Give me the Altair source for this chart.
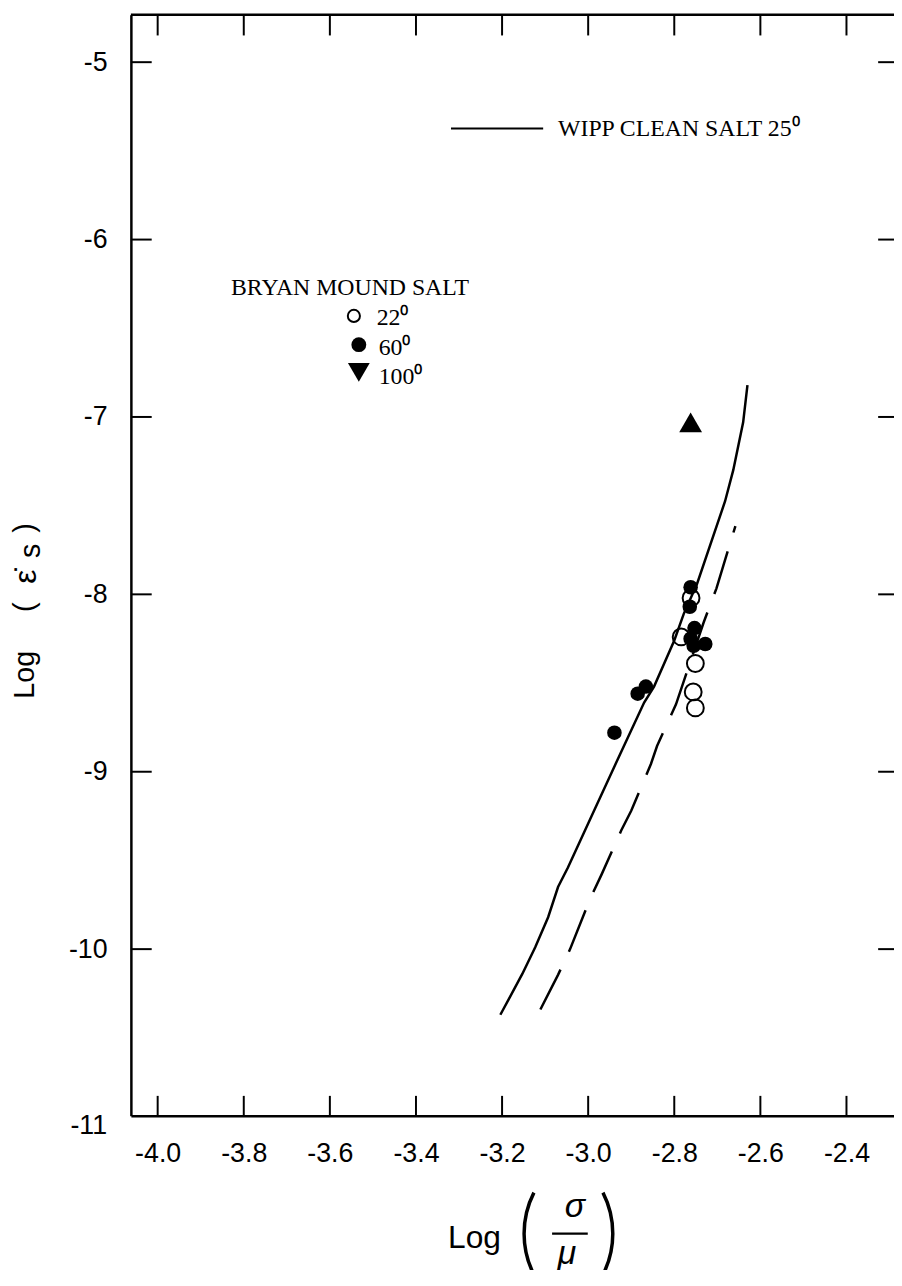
import altair as alt
import pandas as pd

# ---------------- data ----------------
x_ticks = [-4.0, -3.8, -3.6, -3.4, -3.2, -3.0, -2.8, -2.6, -2.4]
y_ticks = [-5, -6, -7, -8, -9, -10]
y_tick_extra = [-11]

# WIPP clean salt 25 deg (solid curve)
wipp_x = [-3.204, -3.153, -3.123, -3.093, -3.070, -3.047, -2.992, -2.939, -2.870,
          -2.847, -2.800, -2.778, -2.747, -2.682, -2.663, -2.640, -2.630]
wipp_y = [-10.37, -10.14, -9.99, -9.82, -9.65, -9.54, -9.25, -8.97, -8.61,
          -8.52, -8.26, -8.11, -7.94, -7.475, -7.30, -7.03, -6.82]

# dashed curve
dash_x = [-3.111, -3.070, -3.042, -2.996, -2.969, -2.923, -2.900, -2.854, -2.840,
          -2.796, -2.732, -2.702, -2.686, -2.658]
dash_y = [-10.34, -10.145, -10.0, -9.72, -9.58, -9.33, -9.22, -8.955, -8.855,
          -8.62, -8.16, -7.966, -7.838, -7.615]

# Bryan Mound salt
open22_x = [-2.761, -2.784, -2.751, -2.756, -2.751]
open22_y = [-8.02, -8.24, -8.39, -8.55, -8.64]
fill60_x = [-2.762, -2.764, -2.753, -2.762, -2.728, -2.755, -2.866, -2.885, -2.939]
fill60_y = [-7.96, -8.07, -8.19, -8.25, -8.28, -8.29, -8.52, -8.56, -8.78]
tri100_x = [-2.762]
tri100_y = [-7.03]

# ---------------- layout ----------------
W, H = 770, 1111
X_DOMAIN = [-4.0622, -2.2896]
Y_DOMAIN = [-10.939, -4.732]
SANS = "Liberation Sans"
SERIF = "Liberation Serif"

xs = alt.Scale(domain=X_DOMAIN, nice=False, zero=False)
ys = alt.Scale(domain=Y_DOMAIN, nice=False, zero=False)

X_AXIS = alt.Axis(values=x_ticks, labelExpr="'-' + format(-datum.value, '.1f')",
                  labelFont=SANS, labelFontSize=27, labelColor="black",
                  ticks=False, domain=True, domainColor="black", domainWidth=2.5,
                  labelPadding=25, grid=False, title=None)
Y_AXIS = alt.Axis(values=y_ticks, labelExpr="'-' + format(-datum.value, 'd')",
                  labelFont=SANS, labelFontSize=27, labelColor="black",
                  ticks=False, domain=True, domainColor="black", domainWidth=2.5,
                  labelPadding=24, grid=False, title=None)

wipp_df = pd.DataFrame({"x": wipp_x, "y": wipp_y})
dash_df = pd.DataFrame({"x": dash_x, "y": dash_y})
open_df = pd.DataFrame({"x": open22_x, "y": open22_y})
fill_df = pd.DataFrame({"x": fill60_x, "y": fill60_y})
tri_df = pd.DataFrame({"x": tri100_x, "y": tri100_y})
xt_df = pd.DataFrame({"v": x_ticks})
yt_df = pd.DataFrame({"v": y_ticks})
yx_df = pd.DataFrame({"v": y_tick_extra, "lbl": [str(v) for v in y_tick_extra]})


def one():
    return pd.DataFrame({"k": [0]})


X = lambda: alt.X("x:Q", scale=xs, axis=X_AXIS)
Y = lambda: alt.Y("y:Q", scale=ys, axis=Y_AXIS)

wipp = alt.Chart(wipp_df).mark_line(color="black", strokeWidth=2.5).encode(x=X(), y=Y(), order="x:Q")
dash = alt.Chart(dash_df).mark_line(color="black", strokeWidth=2.5, strokeDash=[45, 20]).encode(x=X(), y=Y(), order="x:Q")
opens = alt.Chart(open_df).mark_point(shape="circle", filled=False, color="black", strokeWidth=2,
                                      size=289, opacity=1).encode(x=X(), y=Y())
fills = alt.Chart(fill_df).mark_point(shape="circle", filled=True, color="black",
                                      size=216, opacity=1).encode(x=X(), y=Y())
tris = alt.Chart(tri_df).mark_point(shape="triangle-up", filled=True, color="black",
                                    size=529, opacity=1).encode(x=X(), y=Y())

# inward tick marks
tick_bottom = alt.Chart(xt_df).mark_rule(color="black", strokeWidth=2).encode(
    x=alt.X("v:Q", scale=xs, axis=X_AXIS), y=alt.value(H), y2=alt.value(H - 20))
tick_top = alt.Chart(xt_df).mark_rule(color="black", strokeWidth=2).encode(
    x=alt.X("v:Q", scale=xs, axis=X_AXIS), y=alt.value(0), y2=alt.value(21))
tick_left = alt.Chart(yt_df).mark_rule(color="black", strokeWidth=2).encode(
    y=alt.Y("v:Q", scale=ys, axis=Y_AXIS), x=alt.value(0), x2=alt.value(21))
tick_right = alt.Chart(yt_df).mark_rule(color="black", strokeWidth=2).encode(
    y=alt.Y("v:Q", scale=ys, axis=Y_AXIS), x=alt.value(W - 16), x2=alt.value(W))
lbl_extra = alt.Chart(yx_df).mark_text(align="right", baseline="middle", font=SANS,
                                       fontSize=27, color="black").encode(
    y=alt.Y("v:Q", scale=ys, axis=Y_AXIS), x=alt.value(-24), text="lbl:N")
top_frame = alt.Chart(one()).mark_rule(color="black", strokeWidth=2.5).encode(
    x=alt.value(0), x2=alt.value(W + 10), y=alt.value(0))


def txt(s, x, y, size=24, font=SERIF, align="left", baseline="alphabetic", angle=0, style="normal"):
    return alt.Chart(one()).mark_text(text=s, align=align, baseline=baseline, font=font,
                                      fontSize=size, color="black", angle=angle,
                                      fontStyle=style).encode(x=alt.value(x), y=alt.value(y))


# legends
leg_line = alt.Chart(one()).mark_rule(color="black", strokeWidth=2).encode(
    x=alt.value(323), x2=alt.value(416), y=alt.value(115))
leg_wipp = txt("WIPP CLEAN SALT  25\u2070", 431, 122)
leg_bryan = txt("BRYAN MOUND SALT", 101, 283)
leg_o = alt.Chart(one()).mark_point(shape="circle", filled=False, color="black", strokeWidth=2,
                                    size=150, opacity=1).encode(x=alt.value(225), y=alt.value(304))
leg_f = alt.Chart(one()).mark_point(shape="circle", filled=True, color="black",
                                    size=225, opacity=1).encode(x=alt.value(230), y=alt.value(333))
leg_t = alt.Chart(one()).mark_point(shape="triangle-down", filled=True, color="black",
                                    size=484, opacity=1).encode(x=alt.value(230), y=alt.value(361))
leg_22 = txt("22\u2070", 248, 313)
leg_60 = txt("60\u2070", 250, 343)
leg_100 = txt("100\u2070", 250, 373)

# y title  Log ( eps-dot s )
yt_log = txt("Log", -107, 666, size=29, font=SANS, align="center", baseline="middle", angle=270)
yt_lp = txt("(", -107, 598, size=29, font=SANS, align="center", baseline="middle", angle=270)
yt_eps = txt("\u03b5\u0307", -106, 567, size=32, font=SANS, align="center", baseline="middle", angle=270)
yt_s = txt("s", -101, 541, size=29, font=SANS, align="center", baseline="middle", angle=270)
yt_rp = txt(")", -107, 518, size=29, font=SANS, align="center", baseline="middle", angle=270)

# x title  Log ( sigma / mu )
xt_log = txt("Log", 320, 1244, size=32, font=SANS)
xt_sig = txt("\u03c3", 448, 1213, size=34, font=SANS, align="center", style="italic")
xt_mu = txt("\u03bc", 440, 1261, size=34, font=SANS, align="center", style="italic")
xt_bar = alt.Chart(one()).mark_rule(color="black", strokeWidth=2.5).encode(
    x=alt.value(425), x2=alt.value(461), y=alt.value(1230))
xt_lpar = alt.Chart(one()).mark_arc(color="black").encode(
    x=alt.value(488), y=alt.value(1230), theta=alt.value(4.241), theta2=alt.value(5.183),
    radius=alt.value(93), radius2=alt.value(89.5))
xt_rpar = alt.Chart(one()).mark_arc(color="black").encode(
    x=alt.value(395), y=alt.value(1230), theta=alt.value(1.100), theta2=alt.value(2.042),
    radius=alt.value(93), radius2=alt.value(89.5))

chart = alt.layer(
    wipp, dash, opens, fills, tris,
    tick_bottom, tick_top, tick_left, tick_right, lbl_extra, top_frame,
    leg_line, leg_wipp, leg_bryan, leg_o, leg_f, leg_t, leg_22, leg_60, leg_100,
    yt_log, yt_lp, yt_eps, yt_s, yt_rp,
    xt_log, xt_sig, xt_mu, xt_bar, xt_lpar, xt_rpar,
).properties(
    width=W, height=H,
    autosize=alt.AutoSizeParams(type="none"),
    padding={"left": 124, "top": 1, "right": 0, "bottom": 150},
    background="white",
).configure_view(strokeWidth=0, stroke="transparent")

chart.save("out.html", embed_options={"renderer": "svg", "actions": False})
